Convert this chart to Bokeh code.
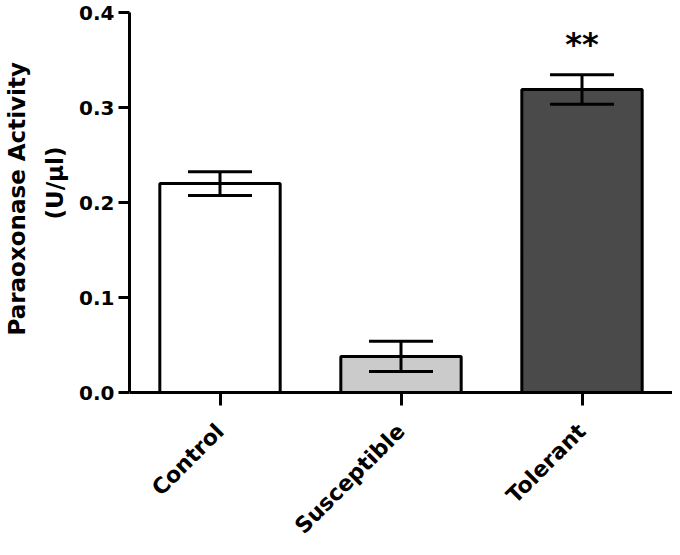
import math
from bokeh.plotting import figure
from bokeh.models import (ColumnDataSource, FactorRange, Range1d, Whisker, TeeHead,
                          FixedTicker, PrintfTickFormatter, Title)
from bokeh.core.properties import value
from bokeh.embed import file_html
from bokeh.resources import INLINE

# ---- data ----
groups = ["Control", "Susceptible", "Tolerant"]
means = [0.220, 0.038, 0.319]
sems = [0.0125, 0.016, 0.0155]
fills = ["#ffffff", "#cbcbcb", "#4a4a4a"]
sig_labels = ["", "", "**"]
y_ticks = [0.0, 0.1, 0.2, 0.3, 0.4]
y_title_lines = ["Paraoxonase Activity", "(U/\u03bcl)"]

src = ColumnDataSource(dict(
    g=groups,
    m=means,
    lo=[m - s for m, s in zip(means, sems)],
    hi=[m + s for m, s in zip(means, sems)],
    fill=fills,
    sig=sig_labels,
))

FONT = "DejaVu Sans"

# layout (pixels): the frame runs down to the figure's bottom so the rotated
# category labels (drawn by an x axis pinned at y = 0) are not clipped.
H = 539
TOP = 12
ZERO_PX = 392           # pixel row (in the figure) of y = 0
Y_MAX = y_ticks[-1]
y_min = -Y_MAX * (H - ZERO_PX) / (ZERO_PX - TOP)
# distance (px) from the frame bottom to where each title line starts
TITLE_OFFSETS = [204, 320]

p = figure(
    x_range=FactorRange(*groups),
    y_range=Range1d(y_min, Y_MAX),
    width=672, height=H,
    output_backend="svg", toolbar_location=None,
    min_border_left=125, min_border_top=TOP, min_border_right=0, min_border_bottom=0,
    outline_line_color=None,
    background_fill_color="white", border_fill_color="white",
)
p.grid.visible = False

p.vbar(x="g", top="m", bottom=0, width=0.665, source=src,
       fill_color="fill", line_color="black", line_width=3)

w = Whisker(base="g", upper="hi", lower="lo", source=src,
            line_color="black", line_width=3, level="overlay",
            upper_head=TeeHead(size=64, line_width=3, line_color="black"),
            lower_head=TeeHead(size=64, line_width=3, line_color="black"))
p.add_layout(w)

p.text(x="g", y="hi", text="sig", source=src,
       text_font=value(FONT), text_font_style="bold", text_font_size="32px",
       text_align="center", text_baseline="alphabetic", y_offset=-31,
       text_color="black")

# y axis
ya = p.yaxis[0]
ya.ticker = FixedTicker(ticks=y_ticks)
ya.formatter = PrintfTickFormatter(format="%.1f")
ya.bounds = (0, Y_MAX)
ya.axis_line_width = 3
ya.major_tick_line_width = 3
ya.major_tick_out = 11
ya.major_tick_in = 0
ya.minor_tick_line_color = None
ya.major_label_text_font = FONT
ya.major_label_text_font_style = "bold"
ya.major_label_text_font_size = "20px"
ya.major_label_text_color = "black"
ya.major_label_standoff = 4

# value-axis title: second line nearest the axis, first line outside it
for text, off, stand in [(y_title_lines[1], TITLE_OFFSETS[1], 18),
                         (y_title_lines[0], TITLE_OFFSETS[0], 2)]:
    p.add_layout(Title(text=text, align="left", offset=off, standoff=stand,
                       text_font=FONT, text_font_style="bold", text_font_size="23px",
                       text_color="black"), "left")

# x axis, pinned at y = 0
xa = p.xaxis[0]
xa.fixed_location = 0
xa.axis_line_width = 3
xa.major_tick_line_width = 3
xa.major_tick_out = 13
xa.major_tick_in = 0
xa.minor_tick_line_color = None
xa.major_label_orientation = math.pi / 4
xa.major_label_text_font = FONT
xa.major_label_text_font_style = "bold"
xa.major_label_text_font_size = "22px"
xa.major_label_text_color = "black"
xa.major_label_standoff = 22

open("out.html", "w").write(file_html(p, INLINE))
